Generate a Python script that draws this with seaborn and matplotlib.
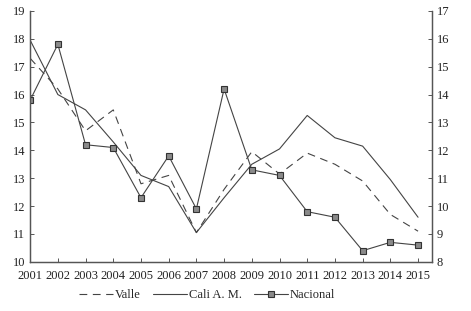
import pandas as pd
import matplotlib
matplotlib.use("Agg")
import matplotlib.pyplot as plt
import seaborn as sns

years = list(range(2001, 2016))
valle = [17.3, 16.2, 14.7, 15.45, 12.8, 13.1, 11.05, 12.6, 13.95, 13.15, 13.9, 13.5, 12.9, 11.7, 11.1]
cali = [17.95, 16.0, 15.45, 14.3, 13.1, 12.7, 11.05, 12.3, 13.5, 14.05, 15.25, 14.45, 14.15, 12.95, 11.6]
# Nacional is read on the right axis (8-17)
nacional = [13.8, 15.8, 12.2, 12.1, 10.3, 11.8, 9.9, 14.2, 11.3, 11.1, 9.8, 9.6, 8.4, 8.7, 8.6]

df = pd.DataFrame({"year": years, "Valle": valle, "Cali A. M.": cali, "Nacional": nacional})

sns.set_style("ticks")
plt.rcParams["font.family"] = ["Liberation Serif", "DejaVu Serif"]
plt.rcParams["font.size"] = 9

fig = plt.figure(figsize=(4.71, 3.11), dpi=100)
ax = fig.add_axes([0.064, 0.158, 0.853, 0.807])
ax2 = ax.twinx()

lc = "#444444"
sns.lineplot(data=df, x="year", y="Valle", ax=ax, color=lc, lw=0.8, linestyle=(0, (7, 5)), label="Valle")
sns.lineplot(data=df, x="year", y="Cali A. M.", ax=ax, color=lc, lw=0.8, label="Cali A. M.")
sns.lineplot(data=df, x="year", y="Nacional", ax=ax2, color=lc, lw=0.8, marker="s", markersize=5,
             markerfacecolor="#8a8a8a", markeredgecolor="#333333", markeredgewidth=0.8, label="Nacional")

ax.set_xlim(2001, 2015.5)
ax.set_ylim(10, 19)
ax2.set_ylim(8, 17)
ax.set_xticks(years)
ax.set_yticks(range(10, 20))
ax2.set_yticks(range(8, 18))
ax.set_xlabel("")
ax.set_ylabel("")
ax2.set_ylabel("")

for a in (ax, ax2):
    for s in a.spines.values():
        s.set_color("#555555")
        s.set_linewidth(0.9)
    a.tick_params(direction="in", length=3, width=0.7, color="#555555", labelsize=9, labelcolor="#222222")
ax.spines["top"].set_visible(False)
ax2.spines["top"].set_visible(False)
ax2.spines["right"].set_visible(True)
ax.tick_params(axis="x", pad=6)

h1, l1 = ax.get_legend_handles_labels()
h2, l2 = ax2.get_legend_handles_labels()
ax.get_legend().remove()
ax2.get_legend().remove()
fig.legend(h1 + h2, l1 + l2, loc="center", bbox_to_anchor=(0.44, 0.051), ncol=3, frameon=False,
           fontsize=9, handlelength=2.7, columnspacing=1.0, handletextpad=0.15)

fig.savefig("out.png", dpi=100)
